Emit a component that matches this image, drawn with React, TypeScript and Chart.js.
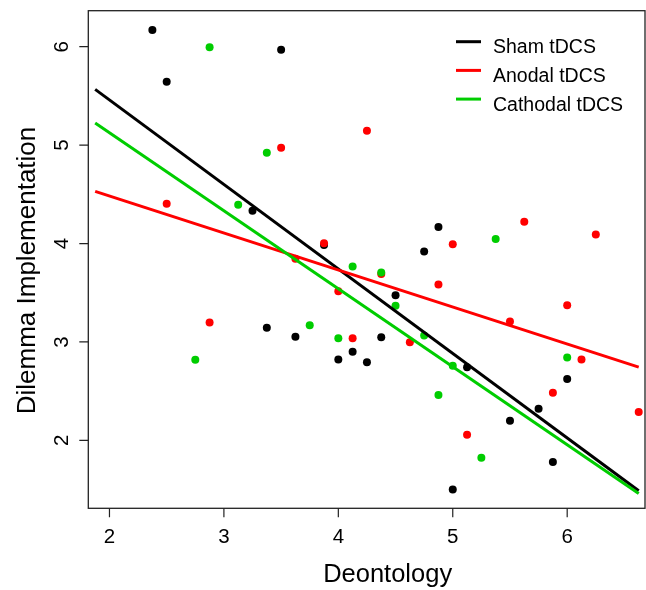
import React, { useEffect, useRef } from "react";
import { Chart, registerables } from "chart.js";

Chart.register(...registerables);

const FONT = "'Liberation Sans', Arial, Helvetica, sans-serif";

// Sham tDCS
const shamX = [2.375, 2.5, 3.5, 3.25, 3.875, 3.375, 3.625, 4.0, 4.125, 4.25, 4.375, 4.5, 4.75, 4.875, 5.125, 5.5, 5.75, 5.875, 6.0, 5.0];
const shamY = [6.17, 5.645, 5.97, 4.333, 3.985, 3.144, 3.053, 2.823, 2.9, 2.793, 3.047, 3.475, 3.92, 4.168, 2.742, 2.2, 2.321, 1.78, 2.623, 1.5];

// Anodal tDCS
const anodalX = [2.5, 2.875, 3.5, 3.625, 3.875, 4.0, 4.125, 4.25, 4.375, 4.625, 4.875, 5.0, 5.125, 5.5, 5.625, 5.875, 6.0, 6.125, 6.25, 6.625];
const anodalY = [4.404, 3.199, 4.974, 3.845, 4.002, 3.515, 3.037, 5.146, 3.69, 2.996, 3.585, 3.992, 2.057, 3.209, 4.222, 2.484, 3.372, 2.823, 4.093, 2.288];

// Cathodal tDCS
const cathodalX = [2.75, 2.875, 3.125, 3.375, 3.75, 4.0, 4.125, 4.375, 4.5, 4.75, 4.875, 5.0, 5.25, 5.375, 6.0];
const cathodalY = [2.819, 5.994, 4.394, 4.923, 3.169, 3.037, 3.768, 3.705, 3.368, 3.067, 2.46, 2.758, 1.823, 4.046, 2.843];

// Fitted regression lines (values at the two ends)
const fitX = [1.875, 6.625];
const shamFit = [5.567, 1.488];
const anodalFit = [4.53, 2.745];
const cathodalFit = [5.226, 1.461];

const xTicks = [2, 3, 4, 5, 6];
const yTicks = [2, 3, 4, 5, 6];
const seriesNames = ["Sham tDCS", "Anodal tDCS", "Cathodal tDCS"];
const seriesColors = ["#000000", "#FF0000", "#00CD00"];
const xTitle = "Deontology";
const yTitle = "Dilemma Implementation";

const pts = (xs: number[], ys: number[]) => xs.map((x, i) => ({ x, y: ys[i] }));

const rPlot = {
  id: "rPlot",
  afterDraw(chart: any) {
    const { ctx, chartArea: a, scales } = chart;
    const xs = scales.x;
    const ys = scales.y;
    ctx.save();
    ctx.strokeStyle = "#222";
    ctx.lineWidth = 1.3;
    ctx.strokeRect(a.left, a.top, a.right - a.left, a.bottom - a.top);

    ctx.lineWidth = 1.2;
    ctx.beginPath();
    xTicks.forEach((v) => {
      const px = xs.getPixelForValue(v);
      ctx.moveTo(px, a.bottom);
      ctx.lineTo(px, a.bottom + 9);
    });
    yTicks.forEach((v) => {
      const py = ys.getPixelForValue(v);
      ctx.moveTo(a.left, py);
      ctx.lineTo(a.left - 9, py);
    });
    ctx.stroke();

    ctx.fillStyle = "#000";
    ctx.font = `20.5px ${FONT}`;
    ctx.textAlign = "center";
    ctx.textBaseline = "alphabetic";
    xTicks.forEach((v) => ctx.fillText(String(v), xs.getPixelForValue(v), a.bottom + 35));
    yTicks.forEach((v) => {
      ctx.save();
      ctx.translate(a.left - 20, ys.getPixelForValue(v));
      ctx.rotate(-Math.PI / 2);
      ctx.fillText(String(v), 0, 0);
      ctx.restore();
    });

    ctx.font = `25.5px ${FONT}`;
    ctx.fillText(xTitle, (a.left + a.right) / 2 + 21, a.bottom + 74);
    ctx.font = `26px ${FONT}`;
    ctx.save();
    ctx.translate(35, (a.top + a.bottom) / 2 + 11);
    ctx.rotate(-Math.PI / 2);
    ctx.fillText(yTitle, 0, 0);
    ctx.restore();

    // legend
    ctx.font = `19.5px ${FONT}`;
    ctx.textAlign = "left";
    seriesNames.forEach((name, i) => {
      const ly = a.top + 31 + i * 28.7;
      ctx.strokeStyle = seriesColors[i];
      ctx.lineWidth = 3;
      ctx.beginPath();
      ctx.moveTo(a.right - 189, ly);
      ctx.lineTo(a.right - 164, ly);
      ctx.stroke();
      ctx.fillStyle = "#000";
      ctx.fillText(name, a.right - 152, ly + 11.7);
    });
    ctx.restore();
  },
};

export default function App() {
  const ref = useRef<HTMLCanvasElement | null>(null);
  useEffect(() => {
    if (!ref.current) return;
    const pointDs = (xs: number[], ys: number[], color: string, order: number) => ({
      type: "scatter" as const,
      data: pts(xs, ys),
      backgroundColor: color,
      borderColor: color,
      borderWidth: 0,
      pointRadius: 4,
      showLine: false,
      order,
    });
    const lineDs = (ys: number[], color: string, order: number) => ({
      type: "line" as const,
      data: pts(fitX, ys),
      borderColor: color,
      backgroundColor: color,
      borderWidth: 3,
      pointRadius: 0,
      fill: false,
      tension: 0,
      order,
    });
    const chart = new Chart(ref.current, {
      type: "scatter",
      data: {
        datasets: [
          pointDs(shamX, shamY, seriesColors[0], 5),
          pointDs(anodalX, anodalY, seriesColors[1], 4),
          pointDs(cathodalX, cathodalY, seriesColors[2], 3),
          lineDs(shamFit, seriesColors[0], 2),
          lineDs(anodalFit, seriesColors[1], 1),
          lineDs(cathodalFit, seriesColors[2], 0),
        ] as any,
      },
      options: {
        animation: false,
        responsive: false,
        devicePixelRatio: 1,
        layout: { padding: { left: 0, top: 10.7, right: 0, bottom: 0 } },
        plugins: { legend: { display: false }, tooltip: { enabled: false } },
        events: [],
        scales: {
          x: {
            type: "linear",
            min: 1.815,
            max: 6.68,
            ticks: { display: false, stepSize: 1, includeBounds: false },
            grid: { display: false },
            border: { display: false },
            afterFit: (s: any) => {
              s.height = 81.7;
              s.paddingLeft = 0;
              s.paddingRight = 0;
            },
          },
          y: {
            type: "linear",
            min: 1.31,
            max: 6.366,
            ticks: { display: false, stepSize: 1, includeBounds: false },
            grid: { display: false },
            border: { display: false },
            afterFit: (s: any) => {
              s.width = 88.3;
              s.paddingTop = 0;
              s.paddingBottom = 0;
            },
          },
        },
      } as any,
      plugins: [rPlot],
    });
    return () => chart.destroy();
  }, []);
  return (
    <div style={{ position: "fixed", left: 0, top: 0, width: 646, height: 590, overflow: "hidden", background: "#fff" }}>
      <canvas ref={ref} width={649} height={590} style={{ display: "block" }} />
    </div>
  );
}
